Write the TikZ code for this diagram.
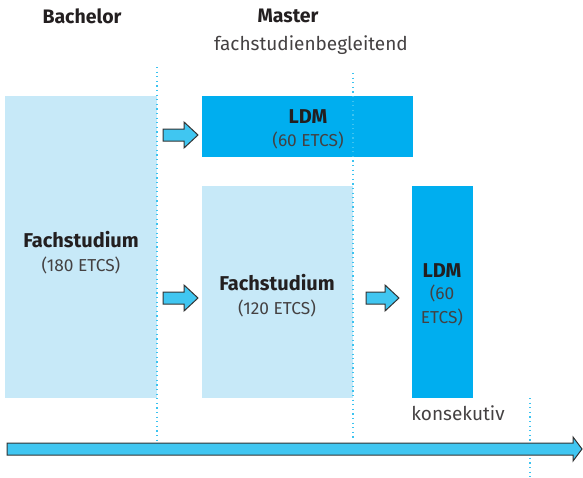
\documentclass[tikz,border=0pt]{standalone}
\usepackage{fontspec}
\setmainfont{Fira Sans}
\usepackage{xcolor}
\usetikzlibrary{positioning}

\definecolor{hellblau}{HTML}{C7E9F8}
\definecolor{ldmblau}{HTML}{00AEEF}
\definecolor{pfeilblau}{HTML}{40C6F1}
\definecolor{punktblau}{HTML}{3CC3F0}
\definecolor{schrift}{HTML}{231F20}

\tikzset{
  feld/.style={fill=#1, draw=none},
  titel/.style={font=\bfseries\fontsize{20}{22}\selectfont, text=schrift, align=center, inner sep=0pt},
  zusatz/.style={font=\fontsize{17.3}{24}\selectfont, text=schrift!85, align=center, inner sep=0pt},
  grenze/.style={punktblau, line width=1.2pt, dash pattern=on 1.2pt off 3.4pt},
  pfeil/.style={fill=pfeilblau, draw=black!80, line width=1pt, line join=miter}
}

% Blockpfeil: Anfang x, Mitte y, Laenge, halbe Schaftbreite, halbe Spitzenbreite, Spitzenlaenge
\newcommand{\blockpfeil}[6]{%
  \draw[pfeil] (#1,#2-#4) -- ++(#3-#6,0) -- ++(0,#4-#5) -- (#1+#3,#2)
    -- (#1+#3-#6,#2+#5) -- ++(0,#4-#5) -- (#1,#2+#4) -- cycle;}

\begin{document}
\begin{tikzpicture}[x=1pt, y=-1pt]
\useasboundingbox (0,0) rectangle (583,477);

% Felder
\fill[feld=hellblau] (5,96) rectangle (157,398);
\fill[feld=ldmblau] (202,96) rectangle (413,157);
\fill[feld=hellblau] (202,186) rectangle (353,398);
\fill[feld=ldmblau] (412,186) rectangle (473,398);

% Grenzen
\draw[grenze] (157,67) -- (157,440);
\draw[grenze] (353,73) -- (353,440);
\draw[grenze] (530,398) -- (530,477);

% Ueberschriften
\node[titel, font=\bfseries\fontsize{19.5}{22}\selectfont] (bachelor) at (82,16) {Bachelor};
\node[titel, font=\bfseries\fontsize{19.5}{22}\selectfont] (master) at (288,16) {Master};
\node[zusatz, font=\fontsize{19}{22}\selectfont] (begleitend) at (311,45) {fachstudienbegleitend};

% Bachelor
\node[titel] (bfach) at (81,240) {Fachstudium};
\node[zusatz, below=8pt of bfach] (bects) {(180 ETCS)};

% LDM oben
\node[titel] (ldmoben) at (308,117) {LDM};
\node[zusatz, below=8pt of ldmoben] (ldmobenects) {(60 ETCS)};

% Master Fachstudium
\node[titel] (mfach) at (277,283) {Fachstudium};
\node[zusatz, below=8pt of mfach] (mects) {(120 ETCS)};

% LDM rechts
\node[titel] (ldmrechts) at (442,271) {LDM};
\node[zusatz, below=7pt of ldmrechts] (ldmrechtsects) {(60\\ETCS)};

\node[zusatz, font=\fontsize{19}{22}\selectfont] (konsekutiv) at (458,413) {konsekutiv};

% Pfeile
\blockpfeil{163}{135}{35}{6}{13}{14}
\blockpfeil{163}{298}{35}{6}{13}{14}
\blockpfeil{366}{298}{33}{6}{13}{14}
\blockpfeil{7}{449}{575}{6}{12}{9}

\end{tikzpicture}
\end{document}
